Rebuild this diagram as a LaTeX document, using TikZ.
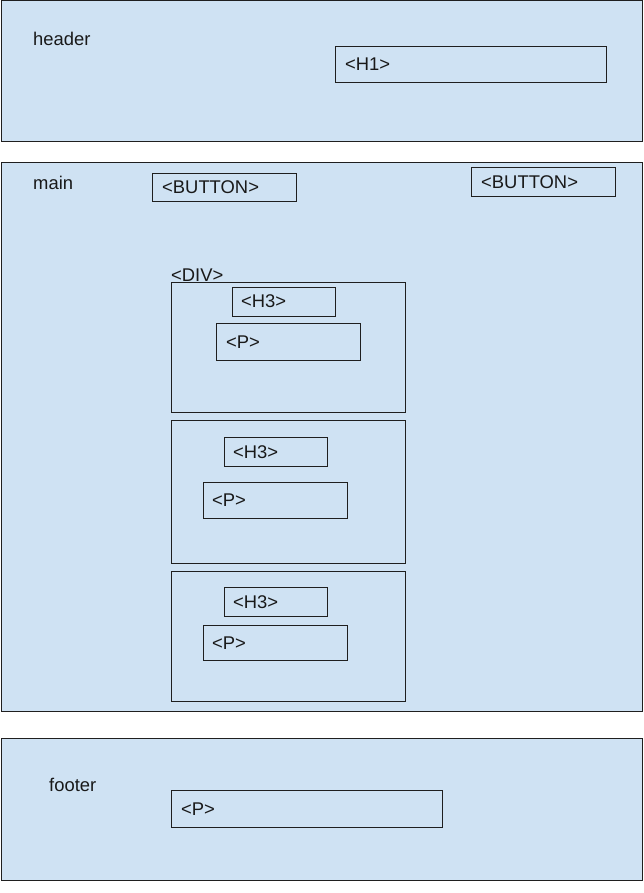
\documentclass[tikz,border=0pt]{standalone}
\usepackage{fontspec}
\setmainfont{Liberation Sans}
\definecolor{boxfill}{HTML}{CFE2F3}
\definecolor{boxline}{HTML}{1F1F1F}
\begin{document}
\begin{tikzpicture}[x=1pt,y=-1pt,
  region/.style={draw=boxline,fill=boxfill,line width=1pt,inner sep=0pt,outer sep=0pt,anchor=north west},
  elem/.style={draw=boxline,fill=boxfill,line width=0.9pt,inner sep=0pt,outer sep=0pt,anchor=north west},
  txt/.style={inner sep=0pt,anchor=base west,text=black!90,font=\fontsize{18.4}{21}\selectfont}]
\useasboundingbox (0,0) rectangle (643,893);
\fill[white] (0,0) rectangle (643,893);
% header
\node[region,minimum width=641pt,minimum height=141pt] (header) at (1,1) {};
\node[txt] (headerlbl) at (33,46) {header};
\node[elem,minimum width=271pt,minimum height=36pt] (h1) at (335,46) {};
\node[txt] (h1lbl) at (345,71) {<H1>};
% main
\node[region,minimum width=641pt,minimum height=548pt] (main) at (1,163) {};
\node[txt] (mainlbl) at (33,190) {main};
\node[elem,minimum width=144pt,minimum height=28pt] (btn1) at (152,173) {};
\node[txt] (btn1lbl) at (162,194) {<BUTTON>};
\node[elem,minimum width=144pt,minimum height=29pt] (btn2) at (471,167) {};
\node[txt] (btn2lbl) at (481,189) {<BUTTON>};
% div 1
\node[elem,minimum width=234pt,minimum height=130pt] (div1) at (171,282) {};
\node[txt] (divlbl) at (171,281) {<DIV>};
\node[elem,minimum width=103pt,minimum height=29pt] (h3a) at (232,287) {};
\node[txt] (h3albl) at (241,307.5) {<H3>};
\node[elem,minimum width=144pt,minimum height=37pt] (pa) at (216,323) {};
\node[txt] (palbl) at (226,348) {<P>};
% div 2
\node[elem,minimum width=234pt,minimum height=143pt] (div2) at (171,420) {};
\node[elem,minimum width=103pt,minimum height=29pt] (h3b) at (224,437) {};
\node[txt] (h3blbl) at (233,458.5) {<H3>};
\node[elem,minimum width=144pt,minimum height=36pt] (pb) at (203,482) {};
\node[txt] (pblbl) at (212,506.5) {<P>};
% div 3
\node[elem,minimum width=234pt,minimum height=130pt] (div3) at (171,571) {};
\node[elem,minimum width=103pt,minimum height=29pt] (h3c) at (224,587) {};
\node[txt] (h3clbl) at (233,608.5) {<H3>};
\node[elem,minimum width=144pt,minimum height=35pt] (pc) at (203,625) {};
\node[txt] (pclbl) at (212,649) {<P>};
% footer
\node[region,minimum width=641pt,minimum height=142pt] (footer) at (1,738) {};
\node[txt] (footerlbl) at (49,791) {footer};
\node[elem,minimum width=271pt,minimum height=37pt] (pf) at (171,790) {};
\node[txt] (pflbl) at (181,815.5) {<P>};
\end{tikzpicture}
\end{document}
